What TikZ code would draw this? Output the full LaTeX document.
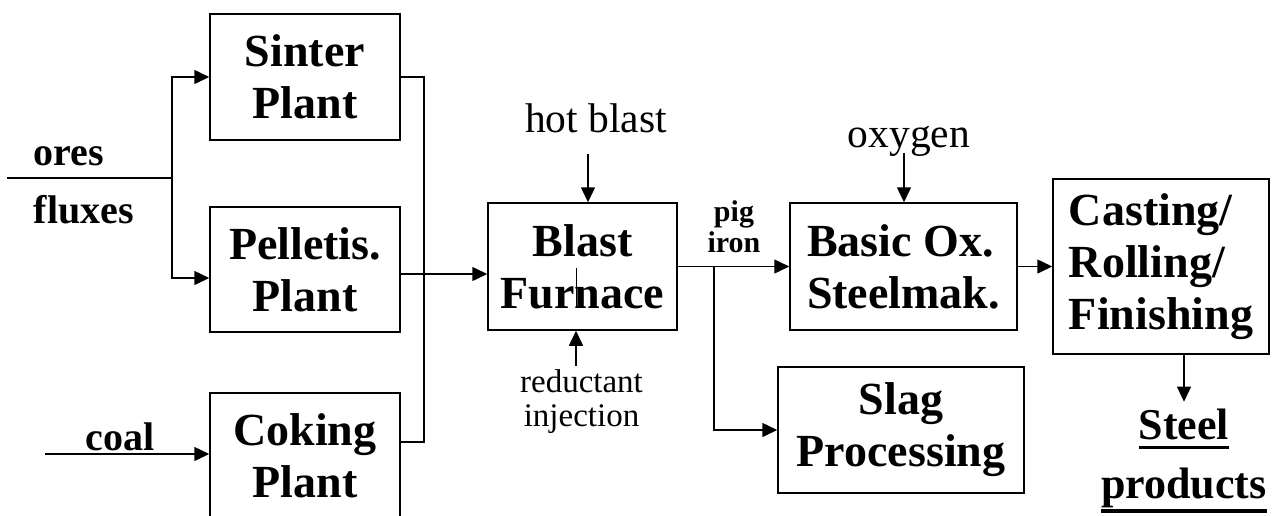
\documentclass[tikz,border=0pt]{standalone}
\usepackage{fontspec}
\setmainfont{Liberation Serif}
\usetikzlibrary{arrows.meta,positioning}

% thick underline that sits below the descenders
\newcommand\thickul[1]{\setbox0\hbox{#1}\leavevmode
	\rlap{\vrule width\wd0 height -\dimexpr\dp0/2+5.5pt\relax depth \dimexpr\dp0/2+9pt\relax}\box0}

\begin{document}
\begin{tikzpicture}[
		x=1pt, y=-1pt,
		>={Triangle[length=15pt,width=14pt]},
		line width=1.5pt,
		unit/.style={draw, inner sep=0pt, align=center,
				font=\bfseries\fontsize{46}{52}\selectfont},
		feed/.style={inner sep=0pt, font=\bfseries\fontsize{40}{46}\selectfont},
		gas/.style={inner sep=0pt, font=\fontsize{41.5}{46}\selectfont},
	]
	\useasboundingbox (0,0) rectangle (1277,515);

	% plants
	\node[unit, minimum width=190pt, minimum height=126pt] (sinter) at (305,77) {Sinter\\Plant};
	\node[unit, minimum width=190pt, minimum height=125pt] (pellet) at (305,269.5) {Pelletis.\\Plant};
	\node[unit, minimum width=190pt, minimum height=126pt] (coking) at (305,456) {Coking\\Plant};
	\node[unit, minimum width=189pt, minimum height=127pt] (blast) at (582.5,266.5) {Blast\\Furnace};
	\node[unit, align=left, minimum width=227pt, minimum height=127pt] (bos) at (903.5,266.5) {Basic Ox.\\Steelmak.};
	\node[unit, align=left, minimum width=216pt, minimum height=175pt] (crf) at (1161,266.5) {Casting/\\Rolling/\\Finishing};
	\node[unit, minimum width=246pt, minimum height=126pt] (slag) at (901,430) {Slag\\Processing};

	% feeds and labels
	\node[feed, anchor=base west] (ores) at (33,165) {ores};
	\node[feed, anchor=base west] (fluxes) at (33,223) {fluxes};
	\node[feed, anchor=base west] (coal) at (85,450) {coal};
	\node[gas, anchor=base] (hotblast) at (596,132) {hot blast};
	\node[gas, anchor=base] (oxygen) at (909,147) {oxygen};
	\node[inner sep=0pt, align=center, font=\fontsize{33}{34}\selectfont] (reductant) at (581.5,402) {reductant\\injection};
	\node[inner sep=0pt, align=center, font=\bfseries\fontsize{30}{31}\selectfont] (pigiron) at (734,227) {pig\\iron};
	\node[inner sep=0pt, align=center, font=\bfseries\fontsize{44}{59}\selectfont] (products) at (1184,461)
	{\thickul{Steel}\\\thickul{products}};

	% raw materials
	\coordinate (oresin) at (7,178);
	\coordinate (split) at (172,178);
	\draw (oresin) -- (split);
	\draw[->] (split) |- (sinter.west);
	\draw[->] (split) |- ([yshift=-8.5pt]pellet.west);
	\coordinate (coalin) at (45,454);
	\draw[->] (coalin) -- (coalin -| coking.west);

	% burden to the furnace
	\coordinate (bus) at (424,274);
	\coordinate (cokeout) at ([yshift=14pt]coking.east);
	\draw (sinter.east) -| (bus |- cokeout) -- (cokeout);
	\draw[->] ([yshift=-4.5pt]pellet.east) -- ([yshift=-7.5pt]blast.west);

	% blast furnace
	\draw[->] ([xshift=-8pt,yshift=-22pt]hotblast.base) -- ([xshift=5.5pt]blast.north);
	\draw[->] ([xshift=-5.5pt,yshift=3.5pt]reductant.north) -- ([xshift=-6.5pt]blast.south);
	\draw[line width=0.8pt] ([xshift=-6.5pt,yshift=-1.5pt]blast.center) -- ([xshift=-6.5pt,yshift=-40.5pt]blast.center);

	% steel route
	\draw[->] (blast) -- (bos);
	\coordinate (tap) at (714,266.5);
	\draw[->] (tap) |- (slag.west);
	\draw[->] ([xshift=-5pt,yshift=-6pt]oxygen.base) -- ([xshift=0.5pt]bos.north);
	\draw[->] (bos) -- (crf);
	\draw[->] (crf.south -| products.north) -- ([yshift=7pt]products.north);

\end{tikzpicture}
\end{document}
